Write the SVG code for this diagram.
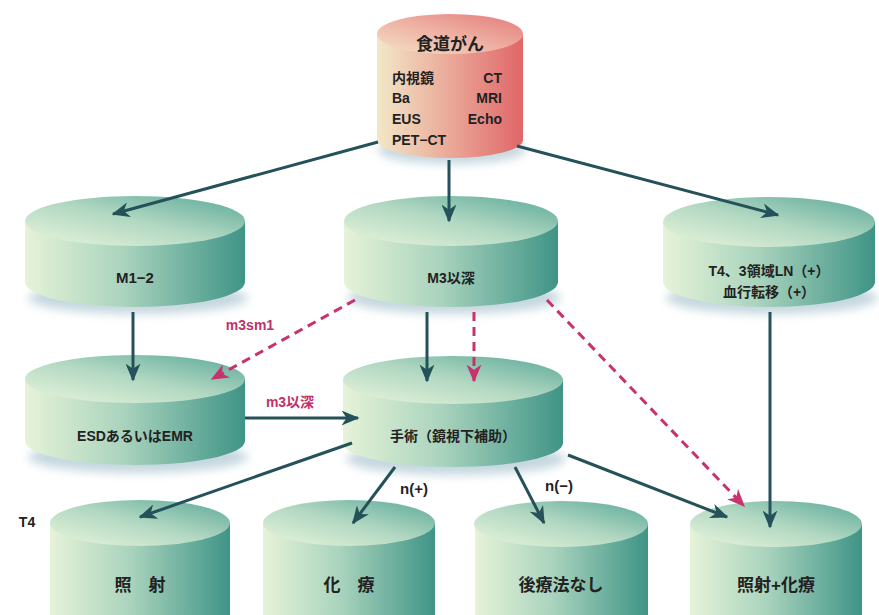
<svg xmlns="http://www.w3.org/2000/svg" width="879" height="615" viewBox="0 0 879 615">
<defs>
<linearGradient id="side" x1="0" y1="0" x2="1" y2="0">
<stop offset="0" stop-color="#e6f3d8"/><stop offset="0.45" stop-color="#a9d3bd"/><stop offset="1" stop-color="#3f9486"/>
</linearGradient>
<linearGradient id="top" x1="0" y1="1" x2="1" y2="0">
<stop offset="0" stop-color="#eaf5dc"/><stop offset="0.5" stop-color="#b2d8c2"/><stop offset="1" stop-color="#5aa898"/>
</linearGradient>
<linearGradient id="pside" x1="0" y1="0" x2="1" y2="0">
<stop offset="0" stop-color="#f2e8c8"/><stop offset="0.5" stop-color="#eaa898"/><stop offset="1" stop-color="#e06668"/>
</linearGradient>
<linearGradient id="ptop" x1="0" y1="1" x2="1" y2="0">
<stop offset="0" stop-color="#f3e2c6"/><stop offset="0.5" stop-color="#eeb0a2"/><stop offset="1" stop-color="#e47a7a"/>
</linearGradient>
<filter id="blur" x="-20%" y="-50%" width="140%" height="200%"><feGaussianBlur stdDeviation="5"/></filter>
<marker id="ah" viewBox="0 0 12 10" refX="11" refY="5" markerWidth="6" markerHeight="5" markerUnits="strokeWidth" orient="auto">
<path d="M0,0 L12,5 L0,10 L3.5,5 Z" fill="#24515a"/>
</marker>
<marker id="ahp" viewBox="0 0 12 10" refX="11" refY="5" markerWidth="6" markerHeight="5" markerUnits="strokeWidth" orient="auto">
<path d="M0,0 L12,5 L0,10 L3.5,5 Z" fill="#c8326e"/>
</marker>
</defs>
<style>
.sh{fill:#7fa8b8;opacity:0.45;filter:url(#blur)}
.side{fill:url(#side)}
.top{fill:url(#top)}
.t{font-family:"Liberation Sans","Noto Sans CJK JP",sans-serif;font-weight:bold;fill:#222;text-anchor:middle}
.ts{font-family:"Liberation Sans","Noto Sans CJK JP",sans-serif;font-weight:bold;fill:#222;text-anchor:start;font-size:14px}
.te{font-family:"Liberation Sans","Noto Sans CJK JP",sans-serif;font-weight:bold;fill:#222;text-anchor:end;font-size:14px}
.pl{font-family:"Liberation Sans","Noto Sans CJK JP",sans-serif;font-weight:bold;fill:#c0306a;text-anchor:middle;font-size:14px}
.c{stroke:#24515a;stroke-width:3;fill:none;marker-end:url(#ah)}
.d{stroke:#c8326e;stroke-width:3;fill:none;stroke-dasharray:9 6;marker-end:url(#ahp)}
</style>

<g id="node-top">
<ellipse class="sh" cx="452" cy="150" rx="74" ry="14"/>
<path d="M377,34 L377,140 A73,18 0 0 0 523,140 L523,34 Z" fill="url(#pside)"/>
<ellipse cx="450" cy="34" rx="73" ry="20" fill="url(#ptop)"/>
<text class="t" x="450" y="50" font-size="17">食道がん</text>
<text class="ts" x="392" y="83">内視鏡</text>
<text class="te" x="502" y="83">CT</text>
<text class="ts" x="392" y="103">Ba</text>
<text class="te" x="502" y="103">MRI</text>
<text class="ts" x="392" y="124">EUS</text>
<text class="te" x="502" y="124">Echo</text>
<text class="ts" x="392" y="145">PET−CT</text>
</g>

<g id="node-m12">
<ellipse class="sh" cx="138" cy="298" rx="110" ry="16"/>
<path d="M25,221 L25,282 A110,25 0 0 0 245,282 L245,221 Z" class="side"/>
<ellipse class="top" cx="135" cy="221" rx="110" ry="25"/>
<text class="t" x="135" y="283" font-size="15">M1−2</text>
</g>

<g id="node-m3">
<ellipse class="sh" cx="454" cy="298" rx="107" ry="16"/>
<path d="M344,221 L344,282 A107,25 0 0 0 558,282 L558,221 Z" class="side"/>
<ellipse class="top" cx="451" cy="221" rx="107" ry="25"/>
<text class="t" x="451" y="283" font-size="14">M3以深</text>
</g>

<g id="node-t4">
<ellipse class="sh" cx="772" cy="298" rx="106" ry="16"/>
<path d="M663,222 L663,282 A106,25 0 0 0 875,282 L875,222 Z" class="side"/>
<ellipse class="top" cx="769" cy="222" rx="106" ry="25"/>
<text class="t" x="769" y="276" font-size="14">T4、3領域LN（+）</text>
<text class="t" x="769" y="297" font-size="14">血行転移（+）</text>
</g>

<g id="node-esd">
<ellipse class="sh" cx="138" cy="457" rx="110" ry="16"/>
<path d="M25,379 L25,441 A110,24 0 0 0 245,441 L245,379 Z" class="side"/>
<ellipse class="top" cx="135" cy="379" rx="110" ry="24"/>
<text class="t" x="135" y="441" font-size="14">ESDあるいはEMR</text>
</g>

<g id="node-surgery">
<ellipse class="sh" cx="456" cy="459" rx="110" ry="16"/>
<path d="M343,380 L343,443 A110,24 0 0 0 563,443 L563,380 Z" class="side"/>
<ellipse class="top" cx="453" cy="380" rx="110" ry="24"/>
<text class="t" x="453" y="441" font-size="14">手術（鏡視下補助）</text>
</g>

<g id="node-rad">
<path d="M50,523 L50,640 L230,640 L230,523 Z" class="side"/>
<ellipse class="top" cx="140" cy="523" rx="90" ry="23"/>
<text class="t" x="140" y="591" font-size="17">照　射</text>
</g>

<g id="node-chemo">
<path d="M263,523 L263,640 L435,640 L435,523 Z" class="side"/>
<ellipse class="top" cx="349" cy="523" rx="86" ry="23"/>
<text class="t" x="349" y="591" font-size="17">化　療</text>
</g>

<g id="node-none">
<path d="M475,524 L475,640 L648,640 L648,524 Z" class="side"/>
<ellipse class="top" cx="561" cy="524" rx="87" ry="23"/>
<text class="t" x="561" y="591" font-size="17">後療法なし</text>
</g>

<g id="node-radchemo">
<path d="M690,524 L690,640 L862,640 L862,524 Z" class="side"/>
<ellipse class="top" cx="776" cy="524" rx="86" ry="23"/>
<text class="t" x="776" y="591" font-size="17">照射+化療</text>
</g>

<g id="connectors">
<line class="c" x1="378" y1="142" x2="113" y2="214"/>
<line class="c" x1="449" y1="160" x2="449" y2="221"/>
<line class="c" x1="517" y1="146" x2="778" y2="215"/>
<line class="c" x1="133" y1="312" x2="133" y2="380"/>
<line class="c" x1="427" y1="312" x2="427" y2="381"/>
<line class="d" x1="474" y1="312" x2="474" y2="381"/>
<line class="d" x1="355" y1="300" x2="212" y2="379"/>
<line class="d" x1="547" y1="300" x2="744" y2="506"/>
<line class="c" x1="770" y1="312" x2="770" y2="527"/>
<line class="c" x1="245" y1="418" x2="358" y2="418"/>
<line class="c" x1="352" y1="443" x2="140" y2="517"/>
<line class="c" x1="395" y1="467" x2="353" y2="523"/>
<line class="c" x1="515" y1="467" x2="544" y2="523"/>
<line class="c" x1="568" y1="455" x2="727" y2="517"/>
<text class="pl" x="250" y="330">m3sm1</text>
<text class="pl" x="290" y="407">m3以深</text>
<text class="t" x="414" y="494" font-size="15">n(+)</text>
<text class="t" x="559" y="491" font-size="15">n(−)</text>
<text class="t" x="27" y="527" font-size="14">T4</text>
</g>
</svg>
